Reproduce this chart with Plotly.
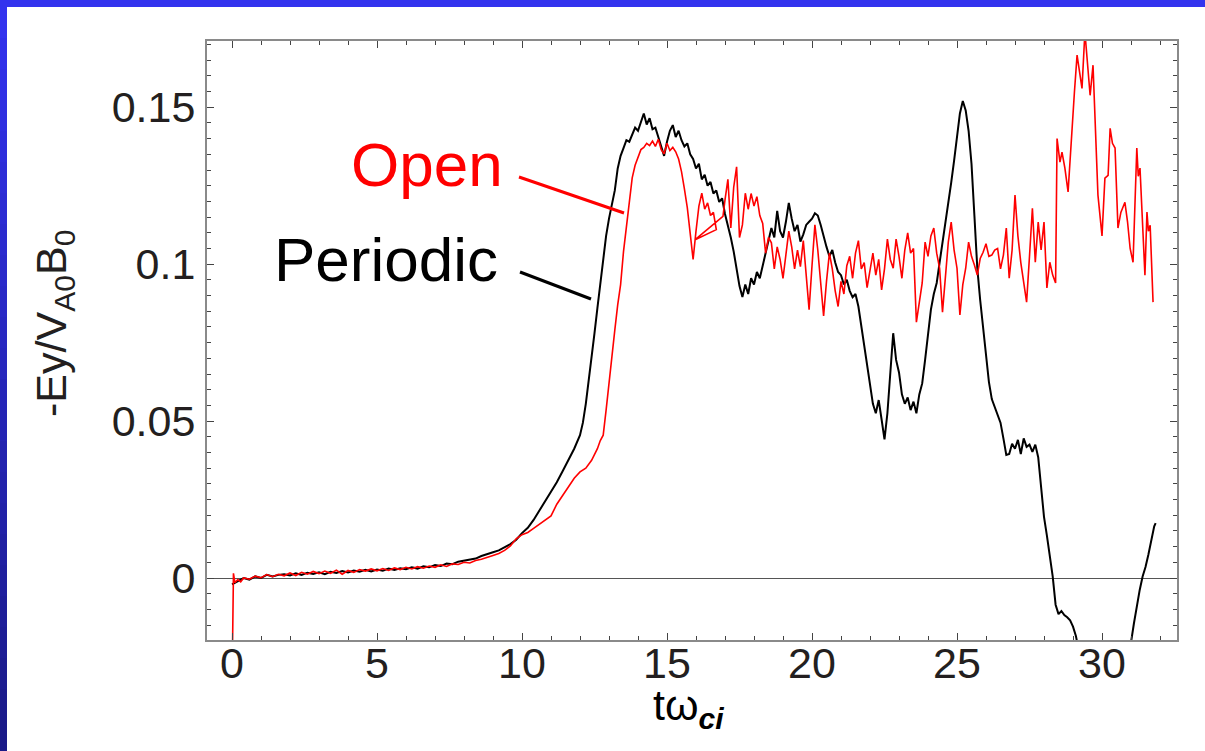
import plotly.graph_objects as go

# ---------------- data ----------------
periodic_t = [0.0,0.2,0.4,0.6,0.8,1.0,1.2,1.4,1.6,1.8,2.0,2.2,2.4,2.6,2.8,3.0,3.2,3.4,3.6,3.8,
              4.0,4.2,4.4,4.6,4.8,5.0,5.2,5.4,5.6,5.8,6.0,6.2,6.4,6.6,6.8,7.0,7.2,7.4,7.6,7.8,
              8.0,8.2,8.4,8.6,8.8,9.0,9.2,9.4,9.6,9.8,10.0,10.2,10.4,10.6,10.8,11.0,11.2,11.4,11.6,11.8,
              12.0,12.1,12.2,12.3,12.4,12.5,12.6,12.7,12.8,12.9,13.0,13.1,13.2,13.3,13.4,13.5,13.6,13.7,13.8,13.9,
              14.0,14.1,14.2,14.3,14.4,14.5,14.6,14.7,14.8,14.9,15.0,15.1,15.2,15.3,15.4,15.5,15.6,15.7,15.8,15.9,
              16.0,16.1,16.2,16.3,16.4,16.5,16.6,16.7,16.8,16.9,17.0,17.1,17.2,17.3,17.4,17.5,17.6,17.7,17.8,17.9,
              18.0,18.1,18.2,18.3,18.4,18.5,18.6,18.7,18.8,18.9,19.0,19.1,19.2,19.3,19.4,19.5,19.6,19.7,19.8,19.9,
              20.0,20.1,20.2,20.3,20.4,20.5,20.6,20.7,20.8,20.9,21.0,21.1,21.2,21.3,21.4,21.5,21.6,21.7,21.8,21.9,
              22.0,22.1,22.2,22.3,22.4,22.5,22.6,22.7,22.8,22.9,23.0,23.1,23.2,23.3,23.4,23.5,23.6,23.7,23.8,23.9,
              24.0,24.1,24.2,24.3,24.4,24.5,24.6,24.7,24.8,24.9,25.0,25.1,25.2,25.3,25.4,25.5,25.6,25.7,25.8,25.9,
              26.0,26.1,26.2,26.3,26.4,26.5,26.6,26.7,26.8,26.9,27.0,27.1,27.2,27.3,27.4,27.5,27.6,27.7,27.8,27.9,
              28.0,28.1,28.2,28.3,28.4,28.5,28.6,28.7,28.8,28.9,29.0,29.1,29.2,29.4,29.6,29.8,30.0,30.2,30.4,30.6,
              30.8,31.0,31.1,31.2,31.3,31.4,31.5,31.6,31.7,31.8,31.85]
periodic_e = [-0.002,-0.001,0.000,-0.0005,0.0005,0.000,0.001,0.0005,0.001,0.0012,0.0008,0.0015,0.001,0.0017,0.0013,0.0018,0.0012,0.002,0.0016,0.0022,
              0.0018,0.0024,0.002,0.0026,0.0021,0.0027,0.0023,0.003,0.0026,0.0031,0.0028,0.0034,0.003,0.0037,0.0034,0.0041,0.0038,0.0046,0.0044,0.0052,
              0.0055,0.006,0.0062,0.007,0.0075,0.0082,0.0088,0.0098,0.0108,0.0122,0.0143,0.016,0.0185,0.0215,0.0245,0.0278,0.0305,0.034,0.0375,0.0412,
              0.0455,0.0495,0.0555,0.0625,0.070,0.078,0.086,0.094,0.102,0.109,0.1145,0.119,0.1235,0.1305,0.1345,0.137,0.1395,0.139,0.1415,0.1435,
              0.1425,0.1455,0.148,0.1445,0.1465,0.143,0.1435,0.1405,0.1375,0.1345,0.139,0.1425,0.1443,0.1405,0.1425,0.1395,0.1375,0.1385,0.135,0.1335,
              0.1305,0.132,0.127,0.1285,0.125,0.1262,0.1225,0.1235,0.1198,0.121,0.116,0.1125,0.1085,0.104,0.099,0.093,0.0895,0.0935,0.0905,0.0955,
              0.0935,0.0975,0.0955,0.0995,0.1045,0.1075,0.1115,0.1085,0.117,0.1105,0.1085,0.1135,0.1195,0.1145,0.1105,0.1125,0.1072,0.1095,0.1125,0.1135,
              0.1145,0.1162,0.1155,0.1125,0.1085,0.1055,0.1025,0.1045,0.1005,0.0975,0.0965,0.0935,0.095,0.0915,0.0895,0.0905,0.0865,0.0805,0.0735,0.0685,
              0.062,0.0555,0.0525,0.0567,0.0505,0.0442,0.0525,0.066,0.078,0.0695,0.0655,0.0585,0.0555,0.0575,0.0535,0.0562,0.0525,0.0585,0.062,0.0695,
              0.0785,0.0855,0.0905,0.094,0.1005,0.1065,0.1135,0.1195,0.126,0.133,0.1405,0.148,0.152,0.149,0.1425,0.132,0.1155,0.0987,0.0885,0.0795,
              0.0705,0.0625,0.057,0.0545,0.052,0.0495,0.0445,0.0392,0.0395,0.0428,0.0412,0.044,0.0395,0.0445,0.0418,0.0425,0.0402,0.0425,0.0385,0.0285,
              0.0195,0.0135,0.0065,0.0005,-0.0085,-0.0115,-0.0105,-0.0118,-0.0125,-0.0135,-0.0155,-0.0185,-0.023,-0.029,-0.033,-0.035,-0.036,-0.035,-0.033,-0.029,
              -0.025,-0.0205,-0.0145,-0.0085,-0.0038,0.0005,0.0035,0.0075,0.012,0.0165,0.0175]

open_t = [0.0,0.05,0.1,0.2,0.3,0.4,0.6,0.8,1.0,1.2,1.4,1.6,1.8,2.0,2.2,2.4,2.6,2.8,3.0,3.2,3.4,3.6,3.8,
          4.0,4.2,4.4,4.6,4.8,5.0,5.2,5.4,5.6,5.8,6.0,6.2,6.4,6.6,6.8,7.0,7.2,7.4,7.6,7.8,
          8.0,8.2,8.4,8.6,8.8,9.0,9.2,9.4,9.6,9.8,10.0,10.2,10.4,10.6,10.8,11.0,11.2,11.4,11.6,11.8,
          12.0,12.2,12.4,12.6,12.7,12.8,12.9,13.0,13.1,13.2,13.3,13.4,13.5,13.6,13.7,13.8,13.9,
          14.0,14.1,14.2,14.3,14.4,14.5,14.6,14.7,14.8,14.9,15.0,15.1,15.2,15.3,15.4,15.5,15.6,15.7,15.8,15.9,
          16.0,16.1,16.2,16.3,16.4,16.5,16.6,16.7,15.97,16.93,17.0,17.1,17.2,17.3,17.4,17.5,17.6,17.7,17.8,17.9,
          18.0,18.1,18.2,18.3,18.4,18.5,18.6,18.7,18.8,18.9,19.0,19.1,19.2,19.3,19.4,19.5,19.6,19.7,19.8,19.9,
          20.0,20.1,20.2,20.3,20.4,20.5,20.6,20.7,20.8,20.9,21.0,21.1,21.2,21.3,21.4,21.5,21.6,21.7,21.8,21.9,
          22.0,22.1,22.2,22.3,22.4,22.5,22.6,22.7,22.8,22.9,23.0,23.1,23.2,23.3,23.4,23.5,23.6,23.7,23.8,23.9,
          24.0,24.1,24.2,24.3,24.4,24.5,24.6,24.7,24.8,24.9,25.0,25.1,25.2,25.3,25.4,25.5,25.6,25.7,25.8,25.9,
          26.0,26.1,26.2,26.3,26.4,26.5,26.6,26.7,26.8,26.9,27.0,27.1,27.2,27.3,27.4,27.5,27.6,27.7,27.8,27.9,
          28.0,28.1,28.2,28.3,28.4,28.45,28.55,28.62,28.72,28.83,28.97,29.05,29.14,29.22,29.31,29.41,29.5,29.59,29.69,29.78,
          29.86,30.0,30.1,30.21,30.28,30.36,30.45,30.55,30.65,30.79,30.88,30.97,31.07,31.2,31.25,31.31,31.4,31.48,31.55,31.6,
          31.66,31.76]
open_e = [-0.035,0.0015,-0.0015,-0.0005,-0.0012,0.0,-0.0004,0.0006,0.0001,0.0011,0.0004,0.0012,0.0007,0.0016,0.0008,0.0018,0.0012,0.0021,0.0014,0.0022,0.0015,0.0025,0.0012,
          0.0024,0.0018,0.0027,0.0022,0.0029,0.0023,0.003,0.0024,0.0032,0.0027,0.0034,0.0029,0.0036,0.0031,0.0038,0.0034,0.0042,0.0037,0.0045,0.0043,
          0.005,0.0048,0.0056,0.006,0.0065,0.0072,0.0078,0.0088,0.0102,0.0125,0.0138,0.0145,0.0158,0.0172,0.0185,0.0198,0.0235,0.0262,0.0288,0.0318,
          0.0338,0.035,0.0375,0.0412,0.0438,0.0455,0.0535,0.0625,0.0705,0.079,0.087,0.0935,0.104,0.1125,0.1205,0.1275,0.1315,
          0.134,0.1365,0.1372,0.1385,0.1378,0.1392,0.1375,0.1398,0.1365,0.1352,0.1385,0.1362,0.1372,0.1358,0.1335,0.1295,0.124,0.118,0.1098,0.1015,
          0.1105,0.1185,0.1226,0.1175,0.1195,0.1155,0.1165,0.111,0.1078,0.1152,0.1205,0.127,0.1115,0.1245,0.131,0.1085,0.1125,0.1226,0.1175,0.1225,
          0.1185,0.1215,0.1155,0.113,0.1035,0.1085,0.1068,0.0985,0.1055,0.1015,0.0955,0.1025,0.1105,0.1055,0.0985,0.1045,0.0992,0.1075,0.0955,0.0855,
          0.0995,0.1125,0.1045,0.0935,0.0835,0.0945,0.1035,0.0985,0.0915,0.0865,0.0945,0.0905,0.0995,0.1025,0.0955,0.1035,0.1075,0.0985,0.1005,0.0925,
          0.0985,0.1035,0.0965,0.1015,0.0918,0.0985,0.108,0.1015,0.0987,0.108,0.1025,0.0955,0.1045,0.110,0.1035,0.105,0.0815,0.0885,0.094,0.107,
          0.1025,0.109,0.1115,0.1035,0.0987,0.0847,0.0955,0.107,0.1134,0.1045,0.0987,0.0838,0.0935,0.0987,0.107,0.1025,0.0997,0.0965,0.1018,0.1038,
          0.1065,0.1025,0.1029,0.1045,0.105,0.0985,0.1029,0.1115,0.0955,0.1045,0.122,0.109,0.1005,0.094,0.0879,0.1025,0.1178,0.1006,0.1134,0.1045,
          0.1134,0.0924,0.1006,0.0965,0.094,0.140,0.1325,0.1357,0.1306,0.123,0.145,0.155,0.1666,0.161,0.156,0.174,0.165,0.1538,0.1634,0.142,
          0.122,0.109,0.1274,0.1283,0.1433,0.1385,0.137,0.1115,0.1165,0.1197,0.1135,0.105,0.1006,0.137,0.128,0.1306,0.112,0.0965,0.1166,0.1105,
          0.1124,0.0879]

x_ticks = [0, 5, 10, 15, 20, 25, 30]
y_ticks = [0, 0.05, 0.1, 0.15]

# ---------------- layout geometry ----------------
W, H = 1205, 751
L, R, T, B = 207, 1177, 41, 640
FONT = "Liberation Sans, Arial, sans-serif"


def px(xp):
    return (xp - L) / (R - L)


def py(yp):
    return (B - yp) / (B - T)


fig = go.Figure()
fig.add_trace(go.Scatter(x=periodic_t, y=periodic_e, mode="lines", name="Periodic",
                         line=dict(color="#000000", width=2)))
fig.add_trace(go.Scatter(x=open_t, y=open_e, mode="lines", name="Open",
                         line=dict(color="#ff0000", width=1.6)))

shapes = []
# blue frame: top bar
shapes.append(dict(type="rect", xref="paper", yref="paper", x0=px(0), x1=px(W), y0=py(7), y1=py(0),
                   fillcolor="#3333ee", line=dict(width=0), layer="below"))
# left bar with vertical gradient
n = 24
for i in range(n):
    f = i / (n - 1)
    r = int(0x33 + (0x1a - 0x33) * f)
    g = int(0x33 + (0x1a - 0x33) * f)
    b = int(0xee + (0x88 - 0xee) * f)
    y0p = 7 + (H - 7) * i / n
    y1p = 7 + (H - 7) * (i + 1) / n
    shapes.append(dict(type="rect", xref="paper", yref="paper", x0=px(0), x1=px(7),
                       y0=py(y1p + 1), y1=py(y0p), fillcolor=f"rgb({r},{g},{b})",
                       line=dict(width=0), layer="below"))
# pointer lines
shapes.append(dict(type="line", xref="paper", yref="paper", x0=px(519), y0=py(177), x1=px(624), y1=py(213),
                   line=dict(color="#ff0000", width=3)))
shapes.append(dict(type="line", xref="paper", yref="paper", x0=px(520), y0=py(272), x1=px(591), y1=py(299),
                   line=dict(color="#000000", width=3)))

annotations = [
    dict(text="Open", xref="paper", yref="paper", x=px(505), y=py(165), xanchor="right", yanchor="middle",
         showarrow=False, font=dict(family=FONT, size=62, color="#ff0000")),
    dict(text="Periodic", xref="paper", yref="paper", x=px(500), y=py(259), xanchor="right", yanchor="middle",
         showarrow=False, font=dict(family=FONT, size=62, color="#000000")),
    dict(text="-Ey/V<sub>A0</sub>B<sub>0</sub>", xref="paper", yref="paper", x=px(54), y=py(324),
         xanchor="center", yanchor="middle", textangle=-90, showarrow=False,
         font=dict(family=FONT, size=43, color="#231f20")),
    dict(text="tω<sub><b><i>ci</i></b></sub>", xref="paper", yref="paper", x=px(688), y=py(708),
         xanchor="center", yanchor="middle", showarrow=False,
         font=dict(family=FONT, size=43, color="#000000")),
]

axis_common = dict(showline=True, linecolor="#8a8a8a", linewidth=2, mirror="allticks",
                   ticks="inside", tickcolor="#444444", tickwidth=1.2, showgrid=False,
                   tickfont=dict(family=FONT, size=43, color="#231f20"))

fig.update_layout(
    width=W, height=H,
    margin=dict(l=L, r=W - R, t=T, b=H - B, pad=0),
    paper_bgcolor="#ffffff", plot_bgcolor="#ffffff",
    showlegend=False,
    shapes=shapes, annotations=annotations,
    xaxis=dict(range=[-0.862, 32.586], tickvals=x_ticks, ticklen=7,
               minor=dict(dtick=1, ticks="inside", ticklen=4, tickcolor="#444444", showgrid=False),
               zeroline=False, ticklabelstandoff=-16, **axis_common),
    yaxis=dict(range=[-0.01975, 0.1711], tickvals=y_ticks, ticklen=7,
               minor=dict(dtick=0.005, ticks="inside", ticklen=4, tickcolor="#444444", showgrid=False),
               zeroline=True, zerolinecolor="#555555", zerolinewidth=1.2,
               ticklabelstandoff=1, **axis_common),
)

fig.write_html("out.html",
               config={"displayModeBar": False},
               post_script="document.body.style.margin='0';document.body.style.overflow='hidden';")
